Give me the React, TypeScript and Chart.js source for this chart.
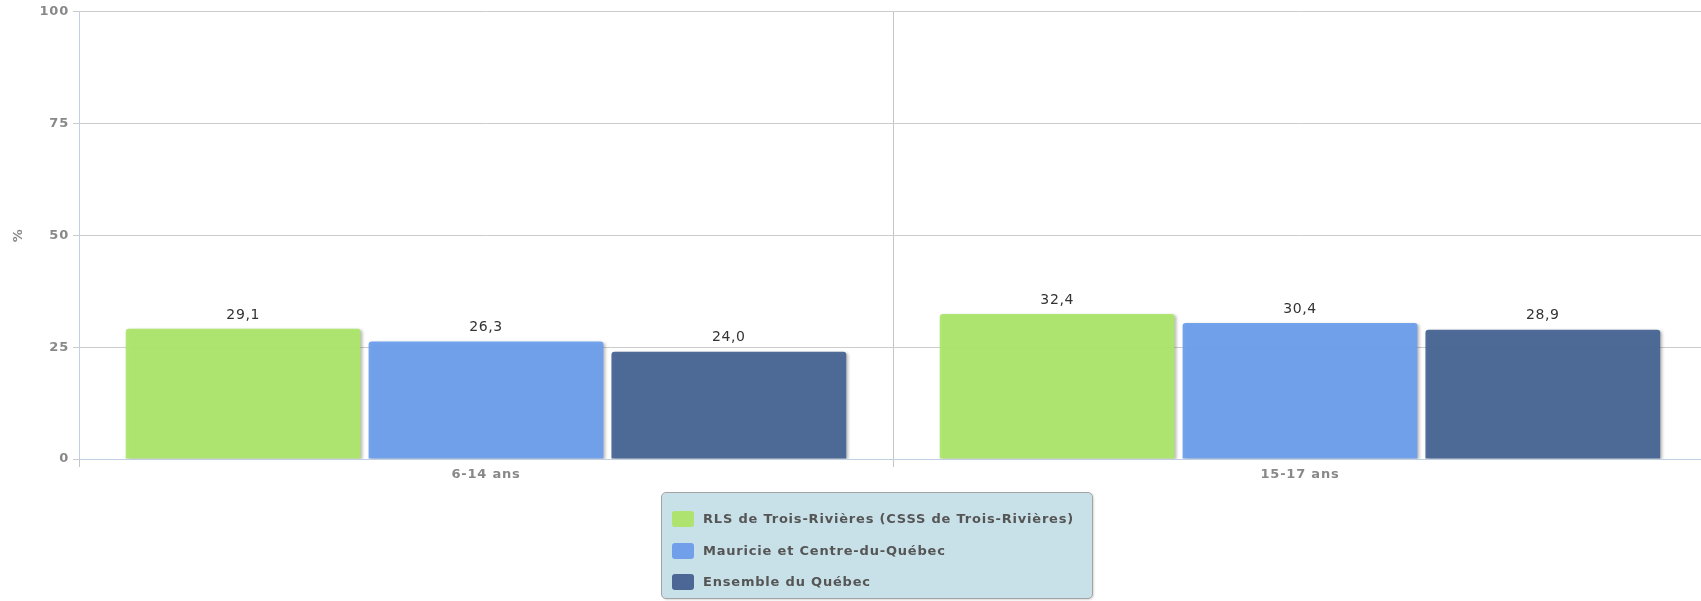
import React, { useEffect, useRef } from "react";
import { Chart, registerables } from "chart.js";

Chart.register(...registerables);

const categories = ["6-14 ans", "15-17 ans"];
const seriesNames = [
  "RLS de Trois-Rivières (CSSS de Trois-Rivières)",
  "Mauricie et Centre-du-Québec",
  "Ensemble du Québec",
];
const rlsValues = [29.1, 32.4];
const mauricieValues = [26.3, 30.4];
const quebecValues = [24.0, 28.9];
const seriesColors = [
  "rgba(172,229,106,0.95)",
  "rgba(109,158,237,0.95)",
  "rgba(71,100,148,0.95)",
];
const legendSwatch = ["#ade36e", "#719fea", "#4c6796"];
const yMin = 0;
const yMax = 100;
const yStep = 25;
const yTitle = "%";

const FONT = '"DejaVu Sans", Verdana, sans-serif';

const barDecor = {
  id: "barDecor",
  beforeUpdate(chart: any) {
    (chart.ctx as any).letterSpacing = "0.8px";
  },
  beforeDraw(chart: any) {
    (chart.ctx as any).letterSpacing = "0.8px";
  },
  beforeDatasetsDraw(chart: any) {
    const ctx = chart.ctx;
    ctx.save();
    ctx.shadowColor = "rgba(0,0,0,0.28)";
    ctx.shadowBlur = 3;
    ctx.shadowOffsetX = 2;
    ctx.shadowOffsetY = 1;
  },
  afterDatasetsDraw(chart: any) {
    const ctx = chart.ctx;
    ctx.restore();
    ctx.save();
    (ctx as any).letterSpacing = "0.6px";
    ctx.font = `14px ${FONT}`;
    ctx.fillStyle = "#333333";
    ctx.textAlign = "center";
    ctx.textBaseline = "middle";
    chart.data.datasets.forEach((ds: any, i: number) => {
      const meta = chart.getDatasetMeta(i);
      meta.data.forEach((bar: any, j: number) => {
        const v = ds.data[j] as number;
        const txt = v.toFixed(1).replace(".", ",");
        ctx.fillText(txt, bar.x, bar.y - 14);
      });
    });
    ctx.restore();
  },
};

export default function App() {
  const canvasRef = useRef<HTMLCanvasElement | null>(null);

  useEffect(() => {
    if (!canvasRef.current) return;
    const allValues = [rlsValues, mauricieValues, quebecValues];
    const chart = new Chart(canvasRef.current, {
      type: "bar",
      data: {
        labels: categories,
        datasets: seriesNames.map((name, i) => ({
          label: name,
          data: allValues[i],
          backgroundColor: seriesColors[i],
          borderWidth: 0,
          borderRadius: { topLeft: 3, topRight: 3, bottomLeft: 0, bottomRight: 0 },
          borderSkipped: "bottom",
          categoryPercentage: 0.895,
          barPercentage: 0.967,
        })),
      },
      options: {
        animation: false,
        responsive: false,
        devicePixelRatio: 1,
        layout: { padding: { top: 10, left: 0, right: 0, bottom: 0 } },
        plugins: {
          legend: { display: false },
          tooltip: { enabled: false },
        },
        scales: {
          x: {
            offset: true,
            grid: {
              display: true,
              offset: true,
              color: "#c4c4c4",
              tickLength: 8,
              drawTicks: true,
            },
            border: { color: "#c0d0e0", width: 1 },
            ticks: {
              color: "#888888",
              font: { family: FONT, size: 13, weight: "bold" },
              padding: 0,
            },
            afterFit(scale: any) {
              scale.height = 142;
            },
          },
          y: {
            min: yMin,
            max: yMax,
            ticks: {
              stepSize: yStep,
              color: "#888888",
              font: { family: FONT, size: 13, weight: "bold" },
              padding: 4,
            },
            grid: { color: "#cccccc", tickLength: 6 },
            border: { color: "#c0d0e0", width: 1 },
            title: {
              display: true,
              text: yTitle,
              color: "#888888",
              font: { family: FONT, size: 13, weight: "bold" },
              padding: { top: 11, bottom: 0 },
            },
            afterFit(scale: any) {
              scale.width = 79;
            },
          },
        },
      },
      plugins: [barDecor],
    });
    return () => chart.destroy();
  }, []);

  return (
    <div
      style={{
        position: "absolute",
        left: 0,
        top: 0,
        width: 1701,
        height: 601,
        overflow: "hidden",
        background: "#ffffff",
        fontFamily: FONT,
      }}
    >
      <canvas
        ref={canvasRef}
        width={1707}
        height={601}
        style={{ display: "block", width: 1707, height: 601 }}
      />
      <div
        style={{
          position: "absolute",
          left: 661,
          top: 492,
          width: 430,
          height: 105,
          background: "#c8e1e8",
          border: "1px solid #a3a3a3",
          borderRadius: 5,
          boxShadow: "1px 1px 2px rgba(0,0,0,0.15)",
        }}
      >
        {seriesNames.map((name, i) => (
          <div
            key={name}
            style={{
              position: "absolute",
              left: 10,
              top: 18 + i * 31.5,
              height: 16,
              display: "flex",
              alignItems: "center",
              whiteSpace: "nowrap",
            }}
          >
            <span
              style={{
                display: "inline-block",
                width: 22,
                height: 16,
                borderRadius: 3,
                background: legendSwatch[i],
                marginRight: 9,
              }}
            />
            <span
              style={{
                fontFamily: FONT,
                fontSize: 13,
                fontWeight: "bold",
                letterSpacing: "0.8px",
                color: "#555555",
                lineHeight: "16px",
              }}
            >
              {name}
            </span>
          </div>
        ))}
      </div>
    </div>
  );
}
